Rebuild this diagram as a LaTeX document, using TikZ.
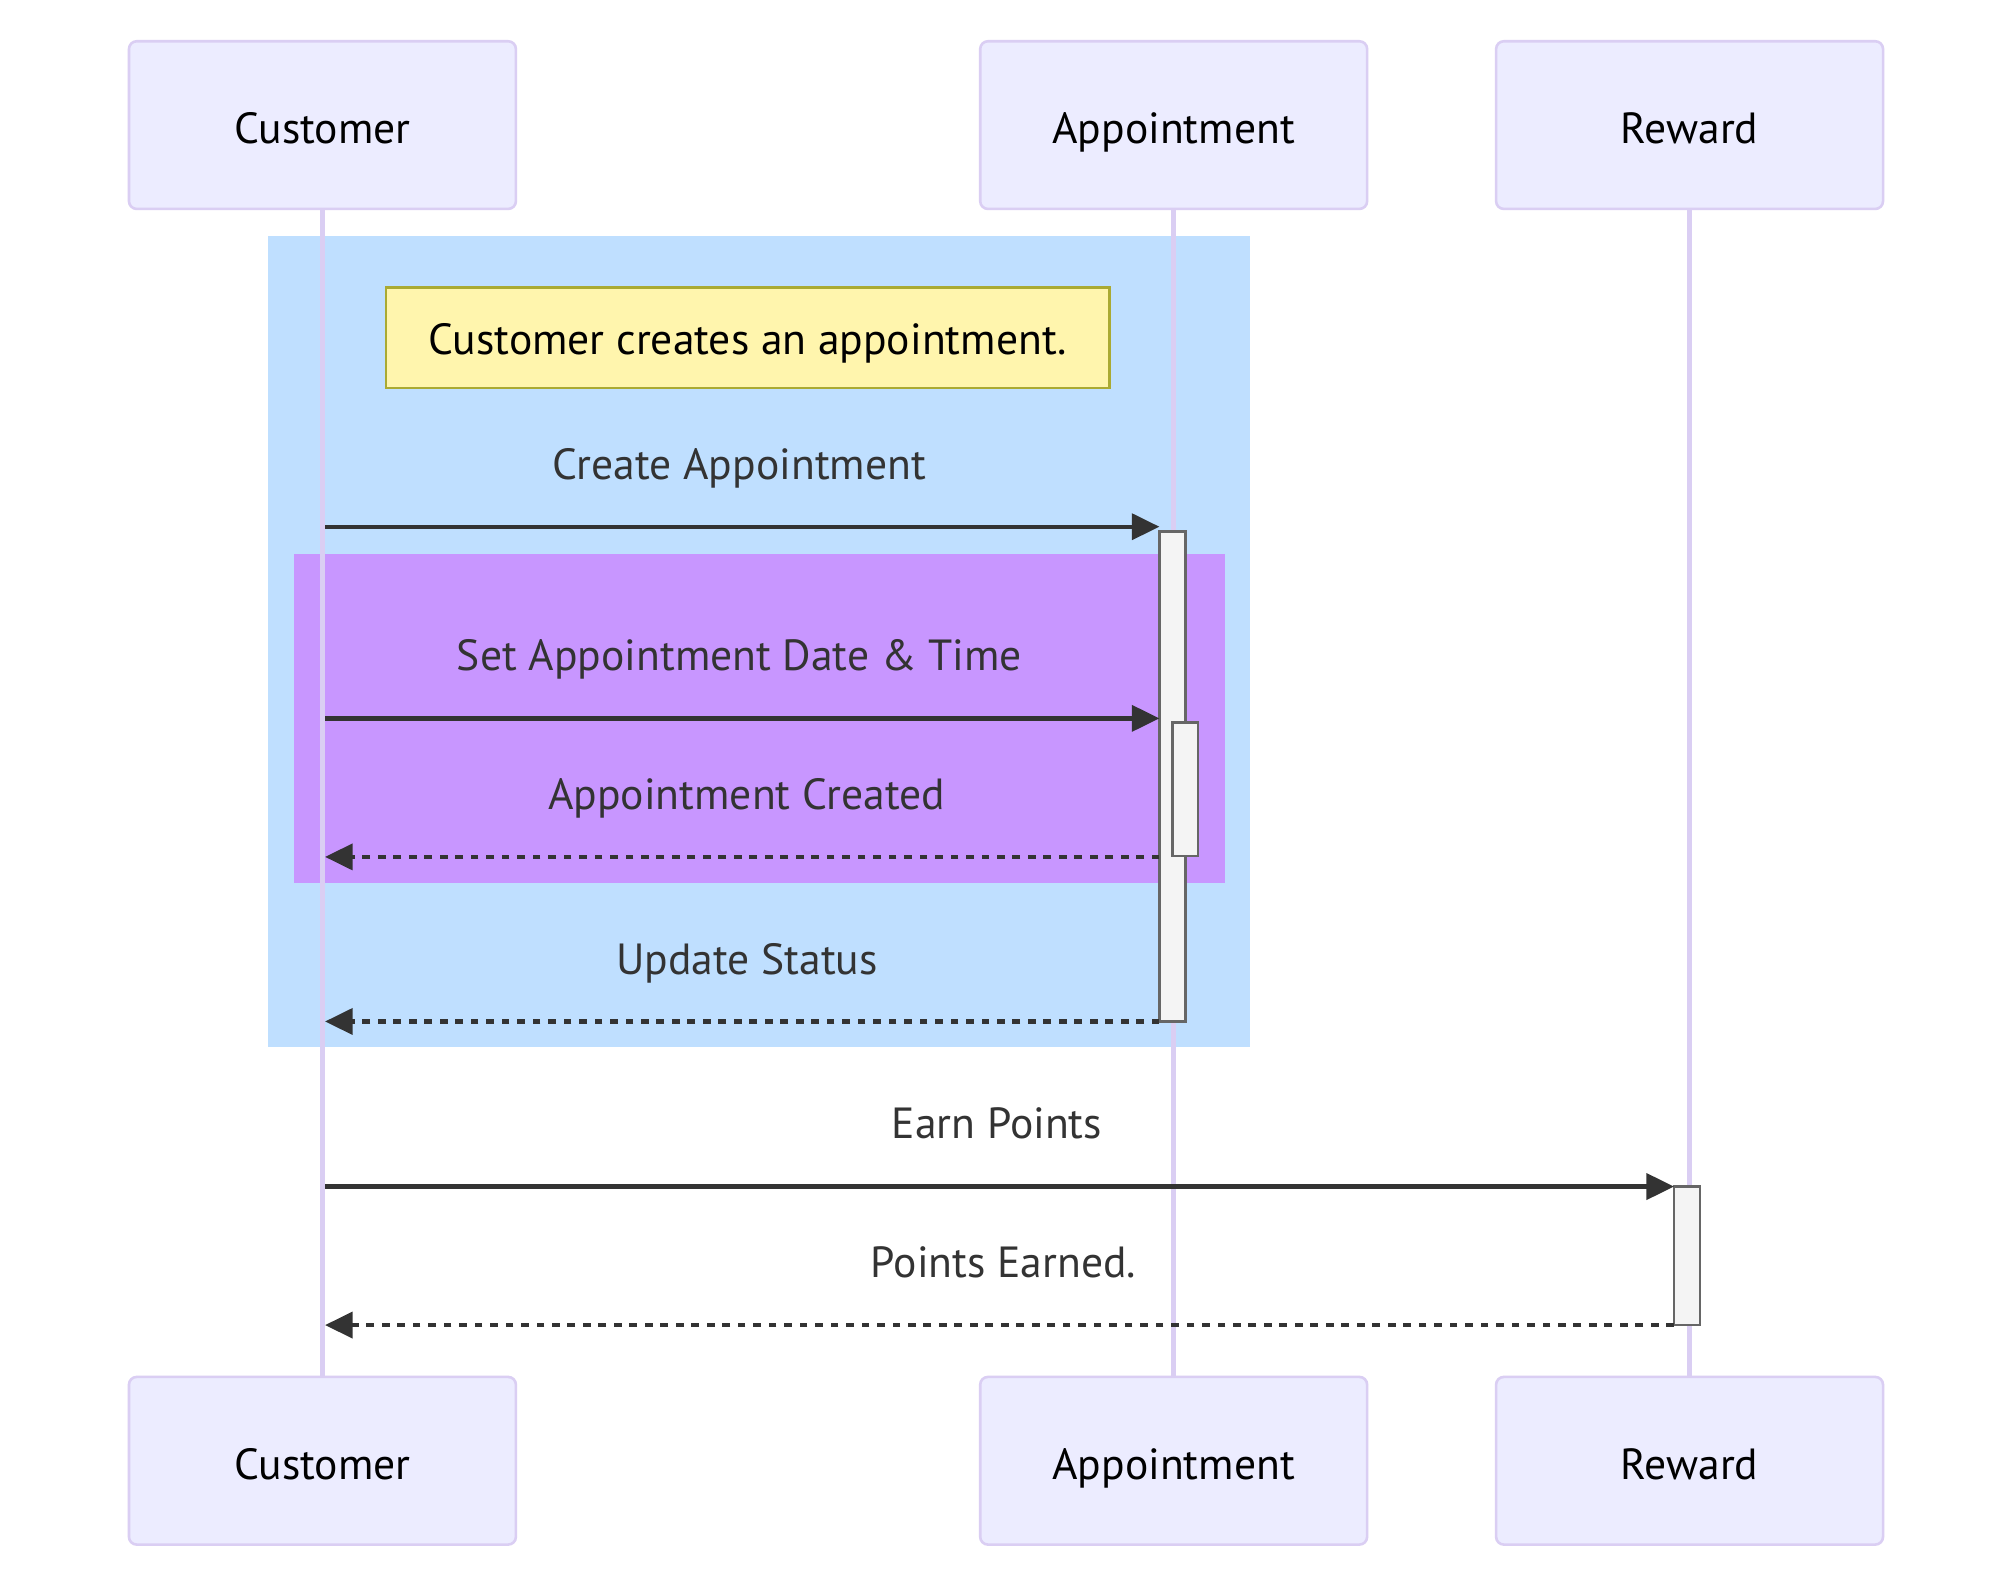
\documentclass[tikz,border=0pt]{standalone}
\usepackage{fontspec}
\setmainfont{PT Sans}
\usetikzlibrary{arrows.meta}
\definecolor{actfill}{RGB}{236,236,255}
\definecolor{actline}{RGB}{218,206,243}
\definecolor{msgcol}{RGB}{51,51,51}
\definecolor{notefill}{RGB}{255,245,173}
\definecolor{noteline}{RGB}{170,170,51}
\definecolor{blueloop}{RGB}{191,223,255}
\definecolor{purpleloop}{RGB}{200,150,255}
\definecolor{actvfill}{RGB}{244,244,244}
\definecolor{actvline}{RGB}{102,102,102}
\begin{document}
\begin{tikzpicture}[x=1pt,y=-1pt,
  actor/.style={draw=actline, fill=actfill, line width=1pt, rounded corners=3pt,
    minimum width=150pt, minimum height=65pt, inner sep=0pt},
  actortext/.style={anchor=base, inner sep=0pt, text=black, font=\fontsize{16.9}{20}\selectfont},
  lifeline/.style={draw=actline, line width=1.9pt},
  activ/.style={draw=actvline, fill=actvfill, line width=1pt, minimum width=10pt, inner sep=0pt},
  msgline/.style={draw=msgcol, line width=1.7pt, -{Triangle[length=10.7pt,width=10pt]}},
  retline/.style={msgline, dash pattern=on 3pt off 3pt},
  msgtext/.style={anchor=base, inner sep=0pt, text=msgcol, font=\fontsize{16.9}{20}\selectfont},
]
\useasboundingbox (0,0) rectangle (780,617.2);
\fill[white] (0,0) rectangle (780,617.2);

% loop rectangles
\fill[blueloop] (103.8,91.4) rectangle (484.7,405.9);
\fill[purpleloop] (114,214.6) rectangle (474.8,342.2);

% actors
\node[actor] (c1) at (125,48.5) {};
\node[actor] (a1) at (455,48.5) {};
\node[actor] (r1) at (655,48.5) {};
\node[actor] (c2) at (125,566.3) {};
\node[actor] (a2) at (455,566.3) {};
\node[actor] (r2) at (655,566.3) {};
\node[actortext] (c1t) at (125,55.6) {Customer};
\node[actortext] (a1t) at (455,55.6) {Appointment};
\node[actortext] (r1t) at (655,55.6) {Reward};
\node[actortext] (c2t) at (125,573.4) {Customer};
\node[actortext] (a2t) at (455,573.4) {Appointment};
\node[actortext] (r2t) at (655,573.4) {Reward};

% lifelines
\draw[lifeline] (c1.south) -- (c2.north);
\draw[lifeline] (a1.south) -- (a2.north);
\draw[lifeline] (r1.south) -- (r2.north);

% activations
\node[activ, minimum height=190pt] (act1) at (454.5,301) {};
\node[activ, minimum height=51.6pt] (act2) at (459.5,306) {};
\node[activ, minimum height=53.7pt] (act3) at (654,486.85) {};

% note
\node[draw=noteline, fill=notefill, line width=1pt, minimum width=280.5pt, minimum height=39pt, inner sep=0pt] (note) at (289.9,131) {};
\node[actortext] (notet) at (289.9,137.4) {Customer creates an appointment.};

% message anchor coordinates
\coordinate (m1s) at (126,204.2);   \coordinate (m1e) at (449.5,204.2);
\coordinate (m2s) at (126,278.5);   \coordinate (m2e) at (449.5,278.5);
\coordinate (m3s) at (449.5,332.2); \coordinate (m3e) at (126,332.2);
\coordinate (m4s) at (449.5,396);   \coordinate (m4e) at (126,396);
\coordinate (m5s) at (126,460);     \coordinate (m5e) at (649,460);
\coordinate (m6s) at (649,513.7);   \coordinate (m6e) at (126,513.7);

\draw[msgline] (m1s) -- (m1e);
\draw[msgline] (m2s) -- (m2e);
\draw[retline] (m3s) -- (m3e);
\draw[retline] (m4s) -- (m4e);
\draw[msgline] (m5s) -- (m5e);
\draw[retline] (m6s) -- (m6e);

\node[msgtext] (t1) at (286.6,185.8) {Create Appointment};
\node[msgtext] (t2) at (286.6,260.1) {Set Appointment Date \& Time};
\node[msgtext] (t3) at (289.4,313.8) {Appointment Created};
\node[msgtext] (t4) at (289.6,377.6) {Update Status};
\node[msgtext] (t5) at (386.5,441.5) {Earn Points};
\node[msgtext] (t6) at (389,495.2) {Points Earned.};
\end{tikzpicture}
\end{document}
